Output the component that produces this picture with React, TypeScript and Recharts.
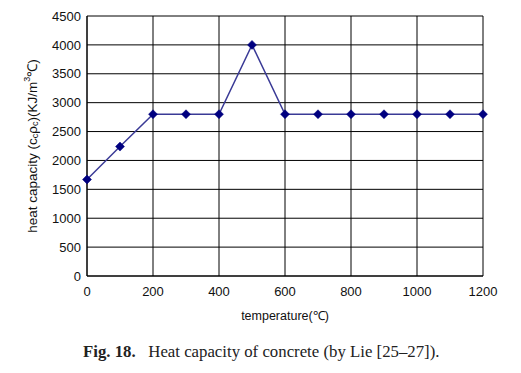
import React from "react";
import { LineChart, Line, XAxis, YAxis, CartesianGrid, Label } from "recharts";

const temperatures = [0, 100, 200, 300, 400, 500, 600, 700, 800, 900, 1000, 1100, 1200];
const heatCapacity = [1670, 2240, 2800, 2800, 2800, 4000, 2800, 2800, 2800, 2800, 2800, 2800, 2800];
const xTicks = [0, 200, 400, 600, 800, 1000, 1200];
const yTicks = [0, 500, 1000, 1500, 2000, 2500, 3000, 3500, 4000, 4500];

const data = temperatures.map((t, i) => ({ t, v: heatCapacity[i] }));

const Diamond = (props: any) => {
  const { cx, cy } = props;
  if (cx == null || cy == null) return null;
  const r = 4.5;
  return (
    <path
      d={`M${cx},${cy - r}L${cx + r},${cy}L${cx},${cy + r}L${cx - r},${cy}Z`}
      fill="#000080"
      stroke="#000080"
      strokeWidth={0.5}
    />
  );
};

const YLabel = (props: any) => {
  const vb = props.viewBox || {};
  const cx = 24;
  const cy = vb.y + vb.height / 2;
  return (
    <text
      x={cx}
      y={cy}
      transform={`rotate(-90, ${cx}, ${cy})`}
      textAnchor="middle"
      dominantBaseline="central"
      fontFamily="Liberation Sans, Arial, sans-serif"
      fontSize={13.5}
      fill="#111"
    >
      heat capacity (c
      <tspan fontSize={9} dy={3}>c</tspan>
      <tspan dy={-3}>ρ</tspan>
      <tspan fontSize={9} dy={3}>c</tspan>
      <tspan dy={-3}>)(KJ/m</tspan>
      <tspan fontSize={9} dy={-5}>3</tspan>
      <tspan dy={5}>℃)</tspan>
    </text>
  );
};

export default function App() {
  return (
    <div style={{ position: "relative", width: 513, height: 365, background: "#fff" }}>
      <LineChart
        width={513}
        height={365}
        data={data}
        margin={{ top: 8, right: 38, bottom: 57, left: 0 }}
      >
        <CartesianGrid stroke="#000" strokeWidth={1} />
        <XAxis
          dataKey="t"
          type="number"
          domain={[0, 1200]}
          ticks={xTicks}
          tickLine={false}
          tickSize={6}
          tickMargin={5}
          axisLine={{ stroke: "#000" }}
          height={40}
          tick={{ fill: "#111", fontSize: 13, fontFamily: "Liberation Sans, Arial, sans-serif" }}
        >
          <Label
            value="temperature(℃)"
            position="insideBottom"
            offset={-4}
            style={{ fill: "#111", fontSize: 12.5, fontFamily: "Liberation Sans, Arial, sans-serif" }}
          />
        </XAxis>
        <YAxis
          type="number"
          domain={[0, 4500]}
          ticks={yTicks}
          tickLine={false}
          tickSize={4}
          tickMargin={2}
          width={79}
          axisLine={{ stroke: "#000" }}
          tick={{ fill: "#111", fontSize: 13, fontFamily: "Liberation Sans, Arial, sans-serif" }}
        >
          <Label content={<YLabel />} />
        </YAxis>
        <Line
          dataKey="v"
          stroke="#3a3a96"
          strokeWidth={1.5}
          dot={<Diamond />}
          isAnimationActive={false}
        />
      </LineChart>
      <div
        style={{
          position: "absolute",
          left: 75,
          top: 334,
          fontFamily: "Liberation Serif, Times New Roman, serif",
          fontSize: 16.8,
          color: "#222",
          whiteSpace: "nowrap",
        }}
      >
        <b>Fig. 18.</b>&nbsp;&nbsp; Heat capacity of concrete (by Lie [25–27]).
      </div>
    </div>
  );
}
